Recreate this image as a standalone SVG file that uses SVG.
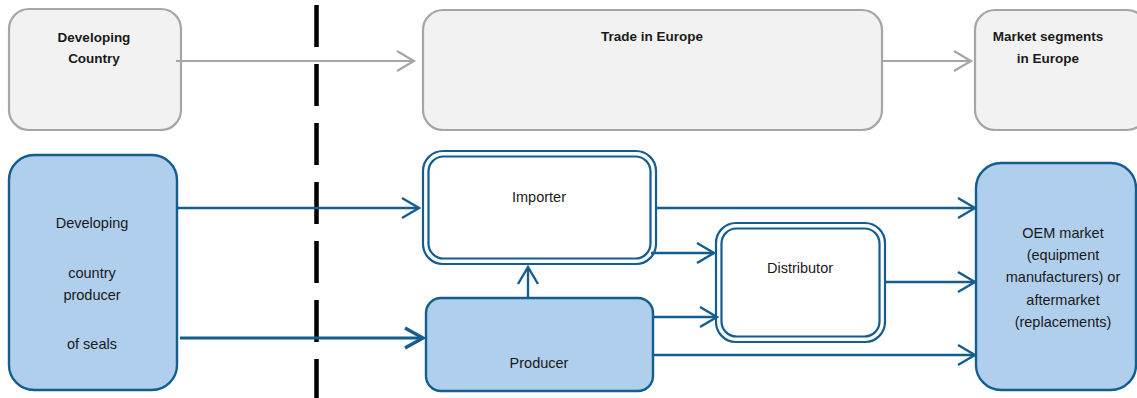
<svg xmlns="http://www.w3.org/2000/svg" width="1137" height="398" viewBox="0 0 1137 398">
<style>
.grey{fill:#f2f2f2;stroke:#a6a6a6;stroke-width:2.2}
.blue{fill:#afcfec;stroke:#135d8f;stroke-width:2.4}
.dbl{fill:#ffffff;stroke:#135d8f;stroke-width:2.2}
.dbli{fill:none;stroke:#135d8f;stroke-width:2.2}
.t{font-family:"Liberation Sans",Arial,sans-serif;font-size:14.5px;fill:#1a1a1a;text-anchor:middle}
.tb{font-family:"Liberation Sans",Arial,sans-serif;font-size:13.5px;font-weight:bold;fill:#1a1a1a;text-anchor:middle}
.cb{fill:none;stroke:#135d8f;stroke-width:2.4}
.cbt{fill:none;stroke:#135d8f;stroke-width:3.2}
.cg{fill:none;stroke:#a6a6a6;stroke-width:2.2}
</style>
<defs>
<marker id="ab" markerUnits="userSpaceOnUse" orient="auto" refX="0" refY="0" markerWidth="24" markerHeight="26" viewBox="-20 -13 24 26" overflow="visible">
<path d="M-17,-10 L0,0 L-17,10" fill="none" stroke="#135d8f" stroke-width="2.4"/>
</marker>
<marker id="abt" markerUnits="userSpaceOnUse" orient="auto" refX="0" refY="0" markerWidth="24" markerHeight="26" viewBox="-20 -13 24 26" overflow="visible">
<path d="M-18,-10 L0,0 L-18,10" fill="none" stroke="#135d8f" stroke-width="3.4"/>
</marker>
<marker id="ag" markerUnits="userSpaceOnUse" orient="auto" refX="0" refY="0" markerWidth="24" markerHeight="26" viewBox="-20 -13 24 26" overflow="visible">
<path d="M-17,-10 L0,0 L-17,10" fill="none" stroke="#a6a6a6" stroke-width="2.2"/>
</marker>
</defs>
<line x1="316.5" y1="5" x2="316.5" y2="400" stroke="#000" stroke-width="4.5" stroke-dasharray="42 17"/>
<g id="developing-country">
<rect class="grey" x="9" y="9" width="172" height="121" rx="20"/>
<text class="tb" x="94" y="42">Developing</text>
<text class="tb" x="94" y="63">Country</text>
</g>
<g id="trade-in-europe">
<rect class="grey" x="423" y="10" width="459" height="120" rx="20"/>
<text class="tb" x="652" y="41">Trade in Europe</text>
</g>
<g id="market-segments">
<rect class="grey" x="975" y="10" width="172" height="120" rx="20"/>
<text class="tb" x="1048" y="41">Market segments</text>
<text class="tb" x="1048" y="63">in Europe</text>
</g>
<g id="dc-producer">
<rect class="blue" x="9" y="155" width="168" height="235" rx="25"/>
<text class="t" x="92" y="228">Developing</text>
<text class="t" x="92" y="278">country</text>
<text class="t" x="92" y="300">producer</text>
<text class="t" x="92" y="349">of seals</text>
</g>
<g id="importer">
<rect class="dbl" x="423" y="151" width="233" height="113" rx="20"/>
<rect class="dbli" x="428.5" y="156.5" width="222" height="102" rx="15"/>
<text class="t" x="539" y="202">Importer</text>
</g>
<g id="producer">
<rect class="blue" x="426" y="298" width="227" height="93" rx="15"/>
<text class="t" x="539" y="368">Producer</text>
</g>
<g id="distributor">
<rect class="dbl" x="716" y="223" width="169" height="119" rx="20"/>
<rect class="dbli" x="721.5" y="228.5" width="158" height="108" rx="15"/>
<text class="t" x="800" y="273">Distributor</text>
</g>
<g id="oem-market">
<rect class="blue" x="976" y="163" width="160" height="227" rx="25"/>
<text class="t" x="1063" y="238">OEM market</text>
<text class="t" x="1063" y="260">(equipment</text>
<text class="t" x="1063" y="282">manufacturers) or</text>
<text class="t" x="1063" y="305">aftermarket</text>
<text class="t" x="1063" y="327">(replacements)</text>
</g>
<g id="connectors">
<line class="cg" x1="176" y1="61" x2="414" y2="61" marker-end="url(#ag)"/>
<line class="cg" x1="882" y1="61" x2="971" y2="61" marker-end="url(#ag)"/>
<line class="cb" x1="177" y1="208" x2="419" y2="208" marker-end="url(#ab)"/>
<line class="cbt" x1="180" y1="338" x2="423" y2="338" marker-end="url(#abt)"/>
<line class="cb" x1="528" y1="298" x2="528" y2="267" marker-end="url(#ab)"/>
<line class="cb" x1="656" y1="208" x2="975" y2="208" marker-end="url(#ab)"/>
<line class="cb" x1="651" y1="253" x2="714" y2="253" marker-end="url(#ab)"/>
<line class="cb" x1="653" y1="317" x2="717" y2="317" marker-end="url(#ab)"/>
<line class="cb" x1="653" y1="355" x2="975" y2="355" marker-end="url(#ab)"/>
<line class="cb" x1="885" y1="282" x2="975" y2="282" marker-end="url(#ab)"/>
</g>
</svg>
